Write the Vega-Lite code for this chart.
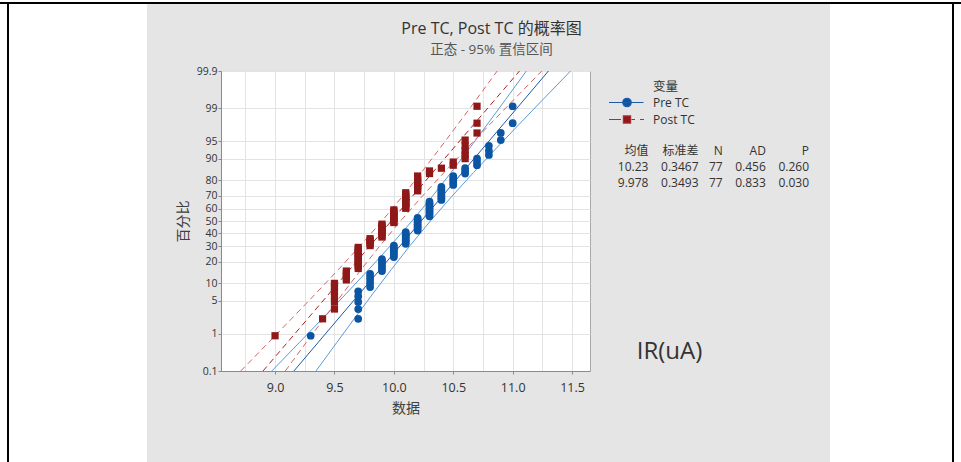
{
  "$schema": "https://vega.github.io/schema/vega-lite/v6.json",
  "padding": 0,
  "background": "#e5e5e5",
  "config": {
    "font": "Open Sans, Noto Sans CJK SC, sans-serif",
    "view": {"stroke": null}
  },
  "datasets": {
    "pts": [
      {"series":"Pre TC","value":9.3,"z":-2.364},
      {"series":"Pre TC","value":9.7,"z":-2.015},{"series":"Pre TC","value":9.7,"z":-1.813},{"series":"Pre TC","value":9.7,"z":-1.667},{"series":"Pre TC","value":9.7,"z":-1.549},{"series":"Pre TC","value":9.7,"z":-1.449},
      {"series":"Pre TC","value":9.8,"z":-1.362},{"series":"Pre TC","value":9.8,"z":-1.285},{"series":"Pre TC","value":9.8,"z":-1.214},{"series":"Pre TC","value":9.8,"z":-1.149},{"series":"Pre TC","value":9.8,"z":-1.088},
      {"series":"Pre TC","value":9.9,"z":-1.031},{"series":"Pre TC","value":9.9,"z":-0.978},{"series":"Pre TC","value":9.9,"z":-0.927},{"series":"Pre TC","value":9.9,"z":-0.878},{"series":"Pre TC","value":9.9,"z":-0.832},{"series":"Pre TC","value":9.9,"z":-0.787},
      {"series":"Pre TC","value":10.0,"z":-0.743},{"series":"Pre TC","value":10.0,"z":-0.701},{"series":"Pre TC","value":10.0,"z":-0.66},{"series":"Pre TC","value":10.0,"z":-0.621},{"series":"Pre TC","value":10.0,"z":-0.582},{"series":"Pre TC","value":10.0,"z":-0.544},{"series":"Pre TC","value":10.0,"z":-0.507},
      {"series":"Pre TC","value":10.1,"z":-0.47},{"series":"Pre TC","value":10.1,"z":-0.434},{"series":"Pre TC","value":10.1,"z":-0.399},{"series":"Pre TC","value":10.1,"z":-0.364},{"series":"Pre TC","value":10.1,"z":-0.33},{"series":"Pre TC","value":10.1,"z":-0.296},{"series":"Pre TC","value":10.1,"z":-0.262},{"series":"Pre TC","value":10.1,"z":-0.229},
      {"series":"Pre TC","value":10.2,"z":-0.196},{"series":"Pre TC","value":10.2,"z":-0.163},{"series":"Pre TC","value":10.2,"z":-0.13},{"series":"Pre TC","value":10.2,"z":-0.097},{"series":"Pre TC","value":10.2,"z":-0.065},{"series":"Pre TC","value":10.2,"z":-0.032},{"series":"Pre TC","value":10.2,"z":0},{"series":"Pre TC","value":10.2,"z":0.032},{"series":"Pre TC","value":10.2,"z":0.065},
      {"series":"Pre TC","value":10.3,"z":0.097},{"series":"Pre TC","value":10.3,"z":0.13},{"series":"Pre TC","value":10.3,"z":0.163},{"series":"Pre TC","value":10.3,"z":0.196},{"series":"Pre TC","value":10.3,"z":0.229},{"series":"Pre TC","value":10.3,"z":0.262},{"series":"Pre TC","value":10.3,"z":0.296},{"series":"Pre TC","value":10.3,"z":0.33},{"series":"Pre TC","value":10.3,"z":0.364},{"series":"Pre TC","value":10.3,"z":0.399},
      {"series":"Pre TC","value":10.4,"z":0.434},{"series":"Pre TC","value":10.4,"z":0.47},{"series":"Pre TC","value":10.4,"z":0.507},{"series":"Pre TC","value":10.4,"z":0.544},{"series":"Pre TC","value":10.4,"z":0.582},{"series":"Pre TC","value":10.4,"z":0.621},{"series":"Pre TC","value":10.4,"z":0.66},{"series":"Pre TC","value":10.4,"z":0.701},
      {"series":"Pre TC","value":10.5,"z":0.743},{"series":"Pre TC","value":10.5,"z":0.787},{"series":"Pre TC","value":10.5,"z":0.832},{"series":"Pre TC","value":10.5,"z":0.878},{"series":"Pre TC","value":10.5,"z":0.927},
      {"series":"Pre TC","value":10.6,"z":0.978},{"series":"Pre TC","value":10.6,"z":1.031},{"series":"Pre TC","value":10.6,"z":1.088},
      {"series":"Pre TC","value":10.7,"z":1.149},{"series":"Pre TC","value":10.7,"z":1.214},{"series":"Pre TC","value":10.7,"z":1.285},
      {"series":"Pre TC","value":10.8,"z":1.362},{"series":"Pre TC","value":10.8,"z":1.449},{"series":"Pre TC","value":10.8,"z":1.549},
      {"series":"Pre TC","value":10.9,"z":1.667},{"series":"Pre TC","value":10.9,"z":1.813},
      {"series":"Pre TC","value":11.0,"z":2.015},{"series":"Pre TC","value":11.0,"z":2.364},
      {"series":"Post TC","value":9.0,"z":-2.364},
      {"series":"Post TC","value":9.4,"z":-2.015},
      {"series":"Post TC","value":9.5,"z":-1.813},{"series":"Post TC","value":9.5,"z":-1.667},{"series":"Post TC","value":9.5,"z":-1.549},{"series":"Post TC","value":9.5,"z":-1.449},{"series":"Post TC","value":9.5,"z":-1.362},{"series":"Post TC","value":9.5,"z":-1.285},
      {"series":"Post TC","value":9.6,"z":-1.214},{"series":"Post TC","value":9.6,"z":-1.149},{"series":"Post TC","value":9.6,"z":-1.088},{"series":"Post TC","value":9.6,"z":-1.031},
      {"series":"Post TC","value":9.7,"z":-0.978},{"series":"Post TC","value":9.7,"z":-0.927},{"series":"Post TC","value":9.7,"z":-0.878},{"series":"Post TC","value":9.7,"z":-0.832},{"series":"Post TC","value":9.7,"z":-0.787},{"series":"Post TC","value":9.7,"z":-0.743},{"series":"Post TC","value":9.7,"z":-0.701},{"series":"Post TC","value":9.7,"z":-0.66},{"series":"Post TC","value":9.7,"z":-0.621},{"series":"Post TC","value":9.7,"z":-0.582},{"series":"Post TC","value":9.7,"z":-0.544},
      {"series":"Post TC","value":9.8,"z":-0.507},{"series":"Post TC","value":9.8,"z":-0.47},{"series":"Post TC","value":9.8,"z":-0.434},{"series":"Post TC","value":9.8,"z":-0.399},{"series":"Post TC","value":9.8,"z":-0.364},
      {"series":"Post TC","value":9.9,"z":-0.33},{"series":"Post TC","value":9.9,"z":-0.296},{"series":"Post TC","value":9.9,"z":-0.262},{"series":"Post TC","value":9.9,"z":-0.229},{"series":"Post TC","value":9.9,"z":-0.196},{"series":"Post TC","value":9.9,"z":-0.163},{"series":"Post TC","value":9.9,"z":-0.13},{"series":"Post TC","value":9.9,"z":-0.097},{"series":"Post TC","value":9.9,"z":-0.065},
      {"series":"Post TC","value":10.0,"z":-0.032},{"series":"Post TC","value":10.0,"z":0},{"series":"Post TC","value":10.0,"z":0.032},{"series":"Post TC","value":10.0,"z":0.065},{"series":"Post TC","value":10.0,"z":0.097},{"series":"Post TC","value":10.0,"z":0.13},{"series":"Post TC","value":10.0,"z":0.163},{"series":"Post TC","value":10.0,"z":0.196},{"series":"Post TC","value":10.0,"z":0.229},
      {"series":"Post TC","value":10.1,"z":0.262},{"series":"Post TC","value":10.1,"z":0.296},{"series":"Post TC","value":10.1,"z":0.33},{"series":"Post TC","value":10.1,"z":0.364},{"series":"Post TC","value":10.1,"z":0.399},{"series":"Post TC","value":10.1,"z":0.434},{"series":"Post TC","value":10.1,"z":0.47},{"series":"Post TC","value":10.1,"z":0.507},{"series":"Post TC","value":10.1,"z":0.544},{"series":"Post TC","value":10.1,"z":0.582},
      {"series":"Post TC","value":10.2,"z":0.621},{"series":"Post TC","value":10.2,"z":0.66},{"series":"Post TC","value":10.2,"z":0.701},{"series":"Post TC","value":10.2,"z":0.743},{"series":"Post TC","value":10.2,"z":0.787},{"series":"Post TC","value":10.2,"z":0.832},{"series":"Post TC","value":10.2,"z":0.878},{"series":"Post TC","value":10.2,"z":0.927},
      {"series":"Post TC","value":10.3,"z":0.978},{"series":"Post TC","value":10.3,"z":1.031},
      {"series":"Post TC","value":10.4,"z":1.088},
      {"series":"Post TC","value":10.5,"z":1.149},{"series":"Post TC","value":10.5,"z":1.214},
      {"series":"Post TC","value":10.6,"z":1.285},{"series":"Post TC","value":10.6,"z":1.362},{"series":"Post TC","value":10.6,"z":1.449},{"series":"Post TC","value":10.6,"z":1.549},{"series":"Post TC","value":10.6,"z":1.667},
      {"series":"Post TC","value":10.7,"z":1.813},{"series":"Post TC","value":10.7,"z":2.015},{"series":"Post TC","value":10.7,"z":2.364}
    ],
    "lines": [
      {"series":"Pre TC","line":"fit","value":9.1587,"z":-3.09},{"series":"Pre TC","line":"fit","value":11.3013,"z":3.09},
      {"series":"Pre TC","line":"lower","value":8.9726,"z":-3.09},{"series":"Pre TC","line":"lower","value":9.206,"z":-2.5},{"series":"Pre TC","line":"lower","value":9.4025,"z":-2},{"series":"Pre TC","line":"lower","value":9.5971,"z":-1.5},{"series":"Pre TC","line":"lower","value":9.7885,"z":-1},{"series":"Pre TC","line":"lower","value":9.9745,"z":-0.5},{"series":"Pre TC","line":"lower","value":10.1526,"z":0},{"series":"Pre TC","line":"lower","value":10.3212,"z":0.5},{"series":"Pre TC","line":"lower","value":10.4819,"z":1},{"series":"Pre TC","line":"lower","value":10.6372,"z":1.5},{"series":"Pre TC","line":"lower","value":10.7893,"z":2},{"series":"Pre TC","line":"lower","value":10.9395,"z":2.5},{"series":"Pre TC","line":"lower","value":11.1152,"z":3.09},
      {"series":"Pre TC","line":"upper","value":9.3448,"z":-3.09},{"series":"Pre TC","line":"upper","value":9.5205,"z":-2.5},{"series":"Pre TC","line":"upper","value":9.6707,"z":-2},{"series":"Pre TC","line":"upper","value":9.8228,"z":-1.5},{"series":"Pre TC","line":"upper","value":9.9781,"z":-1},{"series":"Pre TC","line":"upper","value":10.1388,"z":-0.5},{"series":"Pre TC","line":"upper","value":10.3074,"z":0},{"series":"Pre TC","line":"upper","value":10.4855,"z":0.5},{"series":"Pre TC","line":"upper","value":10.6715,"z":1},{"series":"Pre TC","line":"upper","value":10.8629,"z":1.5},{"series":"Pre TC","line":"upper","value":11.0575,"z":2},{"series":"Pre TC","line":"upper","value":11.254,"z":2.5},{"series":"Pre TC","line":"upper","value":11.4874,"z":3.09},
      {"series":"Post TC","line":"fit","value":8.8987,"z":-3.09},{"series":"Post TC","line":"fit","value":11.0573,"z":3.09},
      {"series":"Post TC","line":"lower","value":8.7112,"z":-3.09},{"series":"Post TC","line":"lower","value":8.9463,"z":-2.5},{"series":"Post TC","line":"lower","value":9.1443,"z":-2},{"series":"Post TC","line":"lower","value":9.3403,"z":-1.5},{"series":"Post TC","line":"lower","value":9.5332,"z":-1},{"series":"Post TC","line":"lower","value":9.7206,"z":-0.5},{"series":"Post TC","line":"lower","value":9.9,"z":0},{"series":"Post TC","line":"lower","value":10.0699,"z":0.5},{"series":"Post TC","line":"lower","value":10.2318,"z":1},{"series":"Post TC","line":"lower","value":10.3882,"z":1.5},{"series":"Post TC","line":"lower","value":10.5415,"z":2},{"series":"Post TC","line":"lower","value":10.6928,"z":2.5},{"series":"Post TC","line":"lower","value":10.8699,"z":3.09},
      {"series":"Post TC","line":"upper","value":9.0861,"z":-3.09},{"series":"Post TC","line":"upper","value":9.2632,"z":-2.5},{"series":"Post TC","line":"upper","value":9.4145,"z":-2},{"series":"Post TC","line":"upper","value":9.5678,"z":-1.5},{"series":"Post TC","line":"upper","value":9.7243,"z":-1},{"series":"Post TC","line":"upper","value":9.8861,"z":-0.5},{"series":"Post TC","line":"upper","value":10.056,"z":0},{"series":"Post TC","line":"upper","value":10.2354,"z":0.5},{"series":"Post TC","line":"upper","value":10.4229,"z":1},{"series":"Post TC","line":"upper","value":10.6157,"z":1.5},{"series":"Post TC","line":"upper","value":10.8117,"z":2},{"series":"Post TC","line":"upper","value":11.0097,"z":2.5},{"series":"Post TC","line":"upper","value":11.2448,"z":3.09}
    ],
    "stats": [
      {"series":"header","stat":"均值","text":"均值"},{"series":"header","stat":"标准差","text":"标准差"},{"series":"header","stat":"N","text":"N"},{"series":"header","stat":"AD","text":"AD"},{"series":"header","stat":"P","text":"P"},
      {"series":"Pre TC","stat":"均值","text":"10.23"},{"series":"Pre TC","stat":"标准差","text":"0.3467"},{"series":"Pre TC","stat":"N","text":"77"},{"series":"Pre TC","stat":"AD","text":"0.456"},{"series":"Pre TC","stat":"P","text":"0.260"},
      {"series":"Post TC","stat":"均值","text":"9.978"},{"series":"Post TC","stat":"标准差","text":"0.3493"},{"series":"Post TC","stat":"N","text":"77"},{"series":"Post TC","stat":"AD","text":"0.833"},{"series":"Post TC","stat":"P","text":"0.030"}
    ]
  },
  "spacing": 0,
  "vconcat": [
    {"data": {"values": []}, "mark": "point", "width": 961, "height": 2, "view": {"fill": "#ffffff", "stroke": null}},
    {"data": {"values": []}, "mark": "point", "width": 961, "height": 2, "view": {"fill": "#000000", "stroke": null}},
    {
      "spacing": 0,
      "hconcat": [
        {"data": {"values": []}, "mark": "point", "width": 7, "height": 458, "view": {"fill": "#ffffff", "stroke": null}},
        {"data": {"values": []}, "mark": "point", "width": 2, "height": 458, "view": {"fill": "#000000", "stroke": null}},
        {"data": {"values": []}, "mark": "point", "width": 138, "height": 458, "view": {"fill": "#ffffff", "stroke": null}},
        {
          "spacing": 0,
          "vconcat": [
            {"data": {"values": []}, "mark": "point", "width": 683, "height": 16},
            {
              "spacing": 0,
              "hconcat": [
                {"data": {"values": []}, "mark": "point", "width": 28, "height": 1},
                {
                  "width": 369,
                  "height": 300,
                  "view": {"fill": "#ffffff", "stroke": "#a8a8a8"},
                  "title": {
                    "text": "Pre TC, Post TC 的概率图",
                    "subtitle": "正态 - 95% 置信区间",
                    "anchor": "middle",
                    "frame": "group",
                    "dx": 86,
                    "fontSize": 16,
                    "fontWeight": "normal",
                    "color": "#333333",
                    "subtitleFontSize": 13.5,
                    "subtitleColor": "#555555",
                    "subtitlePadding": 6,
                    "offset": 10
                  },
                  "layer": [
                    {
                      "layer": [
                        {
                          "data": {"name": "lines"},
                          "transform": [{"filter": "datum.series == 'Pre TC' && datum.line != 'fit'"}],
                          "mark": {"type": "line", "color": "#5b9bd5", "strokeWidth": 1, "clip": true},
                          "encoding": {
                            "x": {
                              "field": "value", "type": "quantitative",
                              "scale": {"domain": [8.545, 11.651], "nice": false, "zero": false},
                              "axis": {
                                "title": "数据",
                                "values": [8.75, 9, 9.25, 9.5, 9.75, 10, 10.25, 10.5, 10.75, 11, 11.25, 11.5],
                                "tickCount": 100,
                                "labelExpr": "datum.value % 0.5 == 0 ? format(datum.value, '.1f') : ''",
                                "labelOverlap": false,
                                "labelFlush": false,
                                "grid": true,
                                "gridColor": "#e3e3e3",
                                "domainColor": "#8a8a8a",
                                "tickColor": {"condition": {"test": "datum.value % 0.5 == 0", "value": "#8a8a8a"}, "value": "transparent"},
                                "tickSize": 3,
                                "labelPadding": 7,
                                "labelFontSize": 12.5,
                                "labelColor": "#333333",
                                "titleFontSize": 14,
                                "titleFontWeight": "normal",
                                "titleColor": "#404040",
                                "titlePadding": 8
                              }
                            },
                            "y": {
                              "field": "z", "type": "quantitative",
                              "scale": {"domain": [-3.0902, 3.0902], "nice": false, "zero": false},
                              "axis": {
                                "title": "百分比",
                                "values": [-3.0902, -2.3263, -1.6449, -1.2816, -0.8416, -0.5244, -0.2533, 0, 0.2533, 0.5244, 0.8416, 1.2816, 1.6449, 2.3263, 3.0902],
                                "tickCount": 100,
                                "labelExpr": "format(cumulativeNormal(datum.value) * 100, '.1~f')",
                                "labelOverlap": false,
                                "grid": true,
                                "gridColor": "#e3e3e3",
                                "domainColor": "#8a8a8a",
                                "tickColor": "#8a8a8a",
                                "tickSize": 3,
                                "labelPadding": 1,
                                "labelFontSize": 10.5,
                                "labelColor": "#333333",
                                "titleFontSize": 14,
                                "titleFontWeight": "normal",
                                "titleColor": "#404040",
                                "titlePadding": 6
                              }
                            },
                            "detail": {"field": "line"},
                            "order": {"field": "z", "type": "quantitative"}
                          }
                        },
                        {
                          "data": {"name": "lines"},
                          "transform": [{"filter": "datum.series == 'Pre TC' && datum.line == 'fit'"}],
                          "mark": {"type": "line", "color": "#1e5aa8", "strokeWidth": 1, "clip": true},
                          "encoding": {
                            "x": {"field": "value", "type": "quantitative"},
                            "y": {"field": "z", "type": "quantitative"},
                            "order": {"field": "z", "type": "quantitative"}
                          }
                        },
                        {
                          "data": {"name": "lines"},
                          "transform": [{"filter": "datum.series == 'Post TC' && datum.line != 'fit'"}],
                          "mark": {"type": "line", "color": "#c96a6a", "strokeWidth": 1, "strokeDash": [6, 4], "clip": true},
                          "encoding": {
                            "x": {"field": "value", "type": "quantitative"},
                            "y": {"field": "z", "type": "quantitative"},
                            "detail": {"field": "line"},
                            "order": {"field": "z", "type": "quantitative"}
                          }
                        },
                        {
                          "data": {"name": "lines"},
                          "transform": [{"filter": "datum.series == 'Post TC' && datum.line == 'fit'"}],
                          "mark": {"type": "line", "color": "#a82424", "strokeWidth": 1, "strokeDash": [6, 4], "clip": true},
                          "encoding": {
                            "x": {"field": "value", "type": "quantitative"},
                            "y": {"field": "z", "type": "quantitative"},
                            "order": {"field": "z", "type": "quantitative"}
                          }
                        },
                        {
                          "data": {"name": "pts"},
                          "transform": [{"filter": "datum.series == 'Pre TC'"}],
                          "mark": {"type": "point", "shape": "circle", "filled": true, "color": "#0b56a4", "size": 60, "opacity": 1},
                          "encoding": {
                            "x": {"field": "value", "type": "quantitative"},
                            "y": {"field": "z", "type": "quantitative"}
                          }
                        },
                        {
                          "data": {"name": "pts"},
                          "transform": [{"filter": "datum.series == 'Post TC'"}],
                          "mark": {"type": "point", "shape": "square", "filled": true, "color": "#8f1818", "size": 52, "opacity": 1},
                          "encoding": {
                            "x": {"field": "value", "type": "quantitative"},
                            "y": {"field": "z", "type": "quantitative"}
                          }
                        },
                        {
                          "data": {"values": [{"series": "Pre TC"}, {"series": "Post TC"}]},
                          "mark": {"type": "point", "filled": true, "opacity": 0},
                          "encoding": {
                            "shape": {
                              "field": "series", "type": "nominal",
                              "scale": {"domain": ["Pre TC", "Post TC"], "range": ["M-3.6,0H3.3M0.85,0A0.85,0.85,0,1,1,-0.85,0A0.85,0.85,0,1,1,0.85,0Z", "M-3.6,0H-1.2M0.9,0H1.6M2.6,0H3.4M-0.72,-0.72H0.72V0.72H-0.72Z"]},
                              "legend": {
                                "title": "变量",
                                "orient": "none", "legendX": 621, "legendY": 81,
                                "symbolSize": 100, "symbolStrokeWidth": 1.2, "symbolOpacity": 1,
                                "labelOffset": 20, "labelFontSize": 12, "labelColor": "#333333",
                                "titleFontSize": 12.5, "titleFontWeight": "normal", "titleColor": "#333333",
                                "titlePadding": 3, "rowPadding": 4, "padding": 0,
                                "encoding": {"title": {"dx": {"value": 32}}}
                              }
                            },
                            "fill": {
                              "field": "series", "type": "nominal",
                              "scale": {"domain": ["Pre TC", "Post TC"], "range": ["#0b56a4", "#8f1818"]},
                              "legend": {
                                "title": "变量",
                                "orient": "none", "legendX": 621, "legendY": 81,
                                "symbolSize": 100, "symbolStrokeWidth": 1.2, "symbolOpacity": 1,
                                "labelOffset": 20, "labelFontSize": 12, "labelColor": "#333333",
                                "titleFontSize": 12.5, "titleFontWeight": "normal", "titleColor": "#333333",
                                "titlePadding": 3, "rowPadding": 4, "padding": 0,
                                "encoding": {"title": {"dx": {"value": 32}}}
                              }
                            },
                            "stroke": {
                              "field": "series", "type": "nominal",
                              "scale": {"domain": ["Pre TC", "Post TC"], "range": ["#1e5aa8", "#b02c2c"]},
                              "legend": {
                                "title": "变量",
                                "orient": "none", "legendX": 621, "legendY": 81,
                                "symbolSize": 100, "symbolStrokeWidth": 1.2, "symbolOpacity": 1,
                                "labelOffset": 20, "labelFontSize": 12, "labelColor": "#333333",
                                "titleFontSize": 12.5, "titleFontWeight": "normal", "titleColor": "#333333",
                                "titlePadding": 3, "rowPadding": 4, "padding": 0,
                                "encoding": {"title": {"dx": {"value": 32}}}
                              }
                            }
                          }
                        },
                        {
                          "data": {"values": [{"label": "IR(uA)"}]},
                          "mark": {"type": "text", "fontSize": 24, "color": "#333333", "align": "center", "baseline": "middle"},
                          "encoding": {
                            "x": {"datum": 12.32},
                            "y": {"datum": -2.69},
                            "text": {"field": "label"}
                          }
                        }
                      ]
                    },
                    {
                      "layer": [
                        {
                          "data": {"name": "stats"},
                          "transform": [{"filter": "datum.stat == '均值' || datum.stat == 'P'"}],
                          "mark": {"type": "text", "align": "right", "baseline": "middle", "fontSize": 12, "color": "#333333"},
                          "encoding": {
                            "x": {"field": "stat", "type": "nominal", "scale": {"type": "point", "domain": ["均值", "标准差", "N", "AD", "P"], "range": [427.4, 588], "padding": 0}, "axis": null},
                            "y": {"field": "series", "type": "nominal", "scale": {"type": "point", "domain": ["header", "Pre TC", "Post TC"], "range": [80, 112], "padding": 0}, "axis": null},
                            "text": {"field": "text"}
                          }
                        },
                        {
                          "data": {"name": "stats"},
                          "transform": [{"filter": "datum.stat == '标准差'"}],
                          "mark": {"type": "text", "align": "right", "baseline": "middle", "fontSize": 12, "color": "#333333", "dx": 10},
                          "encoding": {
                            "x": {"field": "stat", "type": "nominal", "axis": null},
                            "y": {"field": "series", "type": "nominal", "axis": null},
                            "text": {"field": "text"}
                          }
                        },
                        {
                          "data": {"name": "stats"},
                          "transform": [{"filter": "datum.stat == 'N'"}],
                          "mark": {"type": "text", "align": "right", "baseline": "middle", "fontSize": 12, "color": "#333333", "dx": -6},
                          "encoding": {
                            "x": {"field": "stat", "type": "nominal", "axis": null},
                            "y": {"field": "series", "type": "nominal", "axis": null},
                            "text": {"field": "text"}
                          }
                        },
                        {
                          "data": {"name": "stats"},
                          "transform": [{"filter": "datum.stat == 'AD'"}],
                          "mark": {"type": "text", "align": "right", "baseline": "middle", "fontSize": 12, "color": "#333333", "dx": -3},
                          "encoding": {
                            "x": {"field": "stat", "type": "nominal", "axis": null},
                            "y": {"field": "series", "type": "nominal", "axis": null},
                            "text": {"field": "text"}
                          }
                        }
                      ]
                    }
                  ],
                  "resolve": {"scale": {"x": "independent", "y": "independent"}}
                }
              ]
            }
          ]
        },
        {"data": {"values": []}, "mark": "point", "width": 122, "height": 458, "view": {"fill": "#ffffff", "stroke": null}},
        {"data": {"values": []}, "mark": "point", "width": 2, "height": 458, "view": {"fill": "#000000", "stroke": null}},
        {"data": {"values": []}, "mark": "point", "width": 7, "height": 458, "view": {"fill": "#ffffff", "stroke": null}}
      ]
    }
  ]
}
